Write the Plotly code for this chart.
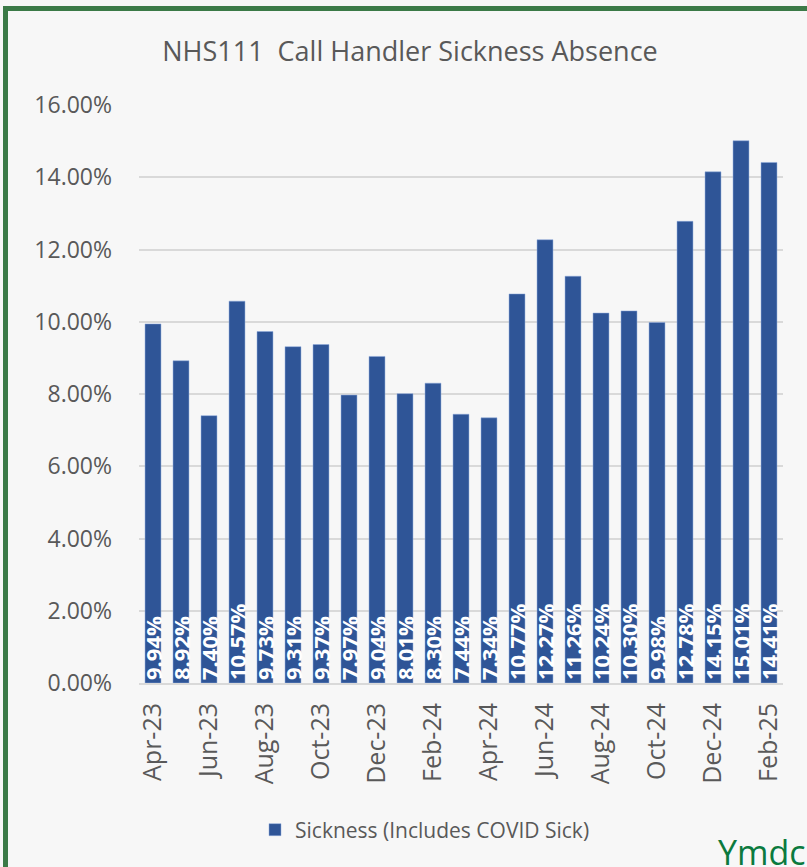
import plotly.graph_objects as go

months = ["Apr-23", "May-23", "Jun-23", "Jul-23", "Aug-23", "Sep-23", "Oct-23", "Nov-23",
          "Dec-23", "Jan-24", "Feb-24", "Mar-24", "Apr-24", "May-24", "Jun-24", "Jul-24",
          "Aug-24", "Sep-24", "Oct-24", "Nov-24", "Dec-24", "Jan-25", "Feb-25"]
sickness = [9.94, 8.92, 7.40, 10.57, 9.73, 9.31, 9.37, 7.97, 9.04, 8.01, 8.30, 7.44, 7.34,
            10.77, 12.27, 11.26, 10.24, 10.30, 9.98, 12.78, 14.15, 15.01, 14.41]
y_ticks = [0, 2, 4, 6, 8, 10, 12, 14, 16]
y_tick_labels = ["0.00%", "2.00%", "4.00%", "6.00%", "8.00%", "10.00%", "12.00%", "14.00%", "16.00%"]

W, H = 807, 867
L, R, T, B = 139, 24, 105, 184
pw, ph = W - L - R, H - T - B

def px(x):
    return (x - L) / pw

def py(y):
    return (H - B - y) / ph

FONT = "Open Sans"
GREY = "#595959"

fig = go.Figure()
fig.add_trace(go.Bar(
    x=months, y=sickness,
    name="Sickness (Includes COVID Sick)",
    marker=dict(color="#2f5597", line=dict(color="#8faadc", width=0.5)),
    text=[f"{v:.2f}%" for v in sickness],
    textposition="inside",
    insidetextanchor="start",
    textangle=-90,
    constraintext="none",
    textfont=dict(color="white", size=22, family=FONT, weight="bold"),
    hoverinfo="x+y",
))

fig.update_layout(
    width=W, height=H,
    margin=dict(l=L, r=R, t=T, b=B),
    paper_bgcolor="#f7f7f7",
    plot_bgcolor="#f7f7f7",
    bargap=0.43,
    uniformtext=dict(minsize=22, mode="show"),
    font=dict(family=FONT, color=GREY),
    title=dict(text="NHS111  Call Handler Sickness Absence", xref="container", x=410 / W,
               xanchor="center", y=1 - 52 / H, yanchor="middle",
               font=dict(size=27, color=GREY, family=FONT)),
    showlegend=True,
    legend=dict(orientation="h", x=px(425), xanchor="center", y=py(830), yanchor="middle",
                font=dict(size=21, color=GREY, family=FONT), bgcolor="rgba(0,0,0,0)"),
    xaxis=dict(type="category", tickvals=months[::2], ticktext=months[::2],
               tickangle=-90, tickfont=dict(size=25, color=GREY, family=FONT),
               showgrid=False, showline=True, linecolor="#d9d9d9", linewidth=2,
               ticks="", ticklen=0, ticklabelstandoff=8),
    yaxis=dict(range=[0, 16], tickvals=y_ticks, ticktext=y_tick_labels,
               tickfont=dict(size=23, color=GREY, family=FONT),
               showgrid=True, gridcolor="#d9d9d9", gridwidth=2, zeroline=False,
               ticks="", ticklabelstandoff=26),
    shapes=[dict(type="rect", xref="paper", yref="paper",
                 x0=px(5.5), x1=px(840), y0=py(900), y1=py(8.5),
                 line=dict(color="#3b7a47", width=5), fillcolor="rgba(0,0,0,0)", layer="above")],
    annotations=[dict(text="Ymdc", xref="paper", yref="paper", x=px(716), xanchor="left",
                      y=py(852), yanchor="middle", showarrow=False,
                      font=dict(size=34, color="#0b7a3e", family=FONT))],
)

fig.write_html("out.html", config={"displayModeBar": False},
               post_script="document.body.style.margin='0';")
